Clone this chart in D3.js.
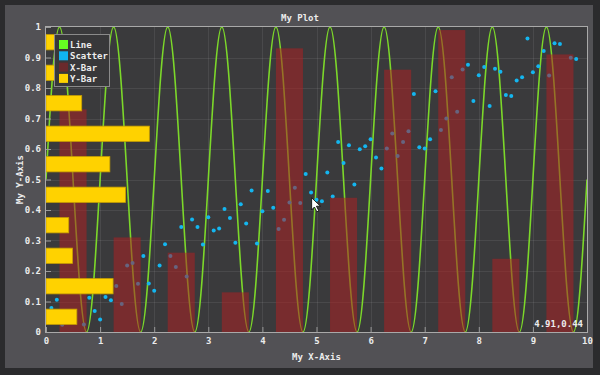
<!DOCTYPE html>
<html>
<head>
<meta charset="utf-8">
<script src="https://cdn.jsdelivr.net/npm/d3@7"></script>
<style>
  html, body { margin: 0; padding: 0; background: #2b2b2d; }
  svg { display: block; }
  text { font-family: "DejaVu Sans Mono", monospace; font-weight: bold; font-size: 9px; fill: #ececec; }
</style>
</head>
<body>
<div id="chart"></div>
<script>
// line series (sampled every 0.125 on x)
const lineX = [
  0, 0.125, 0.25, 0.375, 0.5, 0.625, 0.75, 0.875,
  1, 1.125, 1.25, 1.375, 1.5, 1.625, 1.75, 1.875,
  2, 2.125, 2.25, 2.375, 2.5, 2.625, 2.75, 2.875,
  3, 3.125, 3.25, 3.375, 3.5, 3.625, 3.75, 3.875,
  4, 4.125, 4.25, 4.375, 4.5, 4.625, 4.75, 4.875,
  5, 5.125, 5.25, 5.375, 5.5, 5.625, 5.75, 5.875,
  6, 6.125, 6.25, 6.375, 6.5, 6.625, 6.75, 6.875,
  7, 7.125, 7.25, 7.375, 7.5, 7.625, 7.75, 7.875,
  8, 8.125, 8.25, 8.375, 8.5, 8.625, 8.75, 8.875,
  9, 9.125, 9.25, 9.375, 9.5, 9.625, 9.75, 9.875,
  10
];
const lineY = [
  0.5, 0.85, 1, 0.85, 0.5, 0.15, 0, 0.15,
  0.5, 0.85, 1, 0.85, 0.5, 0.15, 0, 0.15,
  0.5, 0.85, 1, 0.85, 0.5, 0.15, 0, 0.15,
  0.5, 0.85, 1, 0.85, 0.5, 0.15, 0, 0.15,
  0.5, 0.85, 1, 0.85, 0.5, 0.15, 0, 0.15,
  0.5, 0.85, 1, 0.85, 0.5, 0.15, 0, 0.15,
  0.5, 0.85, 1, 0.85, 0.5, 0.15, 0, 0.15,
  0.5, 0.85, 1, 0.85, 0.5, 0.15, 0, 0.15,
  0.5, 0.85, 1, 0.85, 0.5, 0.15, 0, 0.15,
  0.5, 0.85, 1, 0.85, 0.5, 0.15, 0, 0.15,
  0.5
];

// scatter series
const scatterX = [
  0.1, 0.2, 0.3, 0.7, 0.8, 0.9, 1.0, 1.1, 1.2, 1.3, 1.4, 1.5, 1.6, 1.7, 1.8, 1.9,
  2.0, 2.1, 2.2, 2.3, 2.4, 2.5, 2.6, 2.7, 2.8, 2.9, 3.0, 3.1, 3.2, 3.3, 3.4, 3.5,
  3.6, 3.7, 3.8, 3.9, 4.0, 4.1, 4.2, 4.3, 4.4, 4.5, 4.6, 4.7, 4.8, 4.9, 5.0, 5.1,
  5.2, 5.3, 5.4, 5.5, 5.6, 5.7, 5.8, 5.9, 6.0, 6.1, 6.2, 6.3, 6.4, 6.5, 6.6, 6.7,
  6.8, 6.9, 7.0, 7.1, 7.2, 7.3, 7.4, 7.5, 7.6, 7.7, 7.8, 7.9, 8.0, 8.1, 8.2, 8.3,
  8.4, 8.5, 8.6, 8.7, 8.8, 8.9, 9.0, 9.1, 9.2, 9.3, 9.4, 9.5, 9.7, 9.8
];
const scatterY = [
  0.079, 0.106, 0.024, 0.025, 0.112, 0.069, 0.041, 0.115, 0.104, 0.151, 0.092, 0.218, 0.226, 0.158, 0.249, 0.159,
  0.135, 0.218, 0.288, 0.249, 0.213, 0.344, 0.182, 0.369, 0.344, 0.287, 0.376, 0.333, 0.339, 0.403, 0.374, 0.293,
  0.419, 0.356, 0.464, 0.290, 0.396, 0.462, 0.407, 0.338, 0.368, 0.425, 0.473, 0.423, 0.518, 0.457, 0.434, 0.429,
  0.523, 0.444, 0.623, 0.554, 0.612, 0.484, 0.599, 0.609, 0.632, 0.572, 0.536, 0.602, 0.651, 0.577, 0.623, 0.658,
  0.780, 0.606, 0.602, 0.632, 0.789, 0.662, 0.700, 0.835, 0.722, 0.861, 0.876, 0.757, 0.842, 0.869, 0.741, 0.863,
  0.853, 0.777, 0.774, 0.825, 0.835, 0.962, 0.852, 0.871, 0.921, 0.841, 0.947, 0.944, 0.899, 0.895
];

// vertical bars ("X-Bar")
const xBarPos = [0.5, 1.5, 2.5, 3.5, 4.5, 5.5, 6.5, 7.5, 8.5, 9.5];
const xBarVal = [0.73, 0.31, 0.26, 0.13, 0.93, 0.44, 0.86, 0.99, 0.24, 0.91];

// horizontal bars ("Y-Bar")
const yBarPos = [0.05, 0.15, 0.25, 0.35, 0.45, 0.55, 0.65, 0.75, 0.85, 0.95];
const yBarVal = [0.57, 1.24, 0.49, 0.42, 1.47, 1.18, 1.91, 0.66, 0.5, 0.8];

const legendItems = ["Line", "Scatter", "X-Bar", "Y-Bar"];
const xTicks = [0, 1, 2, 3, 4, 5, 6, 7, 8, 9, 10];
const yTicks = [0, 0.1, 0.2, 0.3, 0.4, 0.5, 0.6, 0.7, 0.8, 0.9, 1];
const mouseX = 4.91, mouseY = 0.44;

const W = 600, H = 375;
const plot = { left: 46, right: 587, top: 27, bottom: 332 };
const colors = { line: "#7cd82a", scatter: "#14b6f0", xbar: "rgba(172,32,34,0.55)", ybar: "#ffd200" };
const legendColors = ["#66ff22", "#10b4f0", "#6a2a2c", "#ffd200"];

const svg = d3.select("#chart").append("svg")
    .attr("width", W)
    .attr("height", H);

// window panel
svg.append("rect")
    .attr("x", 5).attr("y", 5)
    .attr("width", 588).attr("height", 363)
    .attr("fill", "#525155");

const x = d3.scaleLinear().domain([0, 10]).range([plot.left, plot.right]);
const y = d3.scaleLinear().domain([0, 1]).range([plot.bottom, plot.top]);

// plot background
svg.append("rect")
    .attr("x", plot.left).attr("y", plot.top)
    .attr("width", plot.right - plot.left).attr("height", plot.bottom - plot.top)
    .attr("fill", "#3a3a3c");

svg.append("clipPath").attr("id", "clip")
    .append("rect")
    .attr("x", plot.left).attr("y", plot.top)
    .attr("width", plot.right - plot.left).attr("height", plot.bottom - plot.top);

// grid
const grid = svg.append("g").attr("stroke", "rgba(255,255,255,0.08)").attr("stroke-width", 1);
grid.selectAll(".vg").data(xTicks.slice(1, -1)).enter().append("line")
    .attr("x1", d => Math.round(x(d)) + 0.5).attr("x2", d => Math.round(x(d)) + 0.5)
    .attr("y1", plot.top).attr("y2", plot.bottom);
grid.selectAll(".hg").data(yTicks.slice(1, -1)).enter().append("line")
    .attr("y1", d => Math.round(y(d)) + 0.5).attr("y2", d => Math.round(y(d)) + 0.5)
    .attr("x1", plot.left).attr("x2", plot.right);

const g = svg.append("g").attr("clip-path", "url(#clip)");

// line
const lineData = lineX.map((d, i) => [d, lineY[i]]);
g.append("path")
    .datum(lineData)
    .attr("fill", "none")
    .attr("stroke", colors.line)
    .attr("stroke-width", 1.6)
    .attr("d", d3.line().x(d => x(d[0])).y(d => y(d[1])).curve(d3.curveNatural));

// scatter
const scatterData = scatterX.map((d, i) => [d, scatterY[i]]);
g.selectAll(".pt").data(scatterData).enter().append("circle")
    .attr("cx", d => x(d[0]))
    .attr("cy", d => y(d[1]))
    .attr("r", 2)
    .attr("fill", colors.scatter);

// X-bars (semi transparent, over line and scatter)
g.selectAll(".xbar").data(xBarPos).enter().append("rect")
    .attr("x", d => x(d - 0.25))
    .attr("width", x(0.5) - x(0))
    .attr("y", (d, i) => y(xBarVal[i]))
    .attr("height", (d, i) => y(0) - y(xBarVal[i]))
    .attr("fill", colors.xbar);

// Y-bars
g.selectAll(".ybar").data(yBarPos).enter().append("rect")
    .attr("x", x(0))
    .attr("width", (d, i) => x(yBarVal[i]) - x(0))
    .attr("y", d => y(d + 0.025))
    .attr("height", y(0) - y(0.05))
    .attr("fill", colors.ybar)
    .attr("stroke", "#c9a000")
    .attr("stroke-width", 0.8);

// axes
const xAxis = svg.append("g")
    .attr("transform", `translate(0,${plot.bottom})`)
    .call(d3.axisBottom(x).tickValues(xTicks).tickFormat(d3.format("d"))
        .tickSizeInner(-5).tickSizeOuter(0).tickPadding(6));
const yAxis = svg.append("g")
    .attr("transform", `translate(${plot.left},0)`)
    .call(d3.axisLeft(y).tickValues(yTicks).tickFormat(d3.format("~g"))
        .tickSizeInner(-5).tickSizeOuter(0).tickPadding(5));
[xAxis, yAxis].forEach(a => {
    a.select(".domain").remove();
    a.selectAll(".tick line").attr("stroke", "#9a9a9a");
    a.selectAll(".tick text")
        .attr("fill", "#ececec")
        .style("font-family", "'DejaVu Sans Mono', monospace")
        .style("font-weight", "bold")
        .style("font-size", "9px");
});

// plot border
svg.append("rect")
    .attr("x", plot.left - 0.5).attr("y", plot.top - 0.5)
    .attr("width", plot.right - plot.left + 1).attr("height", plot.bottom - plot.top + 1)
    .attr("fill", "none")
    .attr("stroke", "#a9a9a9");

// titles
svg.append("text")
    .attr("x", 300).attr("y", 21)
    .attr("text-anchor", "middle")
    .text("My Plot");
svg.append("text")
    .attr("x", (plot.left + plot.right) / 2).attr("y", 360)
    .attr("text-anchor", "middle")
    .text("My X-Axis");
svg.append("text")
    .attr("transform", `translate(23,${(plot.top + plot.bottom) / 2}) rotate(-90)`)
    .attr("text-anchor", "middle")
    .text("My Y-Axis");

// legend
const legend = svg.append("g").attr("transform", "translate(54,34)");
legend.append("rect")
    .attr("x", 0.5).attr("y", 0.5)
    .attr("width", 55).attr("height", 52)
    .attr("fill", "#38383a")
    .attr("stroke", "#8a8a8a");
const li = legend.selectAll(".li").data(legendItems).enter().append("g")
    .attr("transform", (d, i) => `translate(5,${6 + i * 11.3})`);
li.append("rect")
    .attr("width", 9).attr("height", 9)
    .attr("fill", (d, i) => legendColors[i]);
li.append("text")
    .attr("x", 11).attr("y", 8)
    .text(d => d);

// mouse position readout
svg.append("text")
    .attr("x", 583).attr("y", 327)
    .attr("text-anchor", "end")
    .text(`${mouseX.toFixed(2)},${mouseY.toFixed(2)}`);

// cursor
svg.append("path")
    .attr("transform", `translate(${x(mouseX)},${y(mouseY)}) scale(0.8)`)
    .attr("d", "M0,0 L0,15 L3.5,11.5 L6.5,17.5 L9,16.3 L6,10.5 L11,10.5 Z")
    .attr("fill", "#ffffff")
    .attr("stroke", "#000000")
    .attr("stroke-width", 1);
</script>
</body>
</html>
